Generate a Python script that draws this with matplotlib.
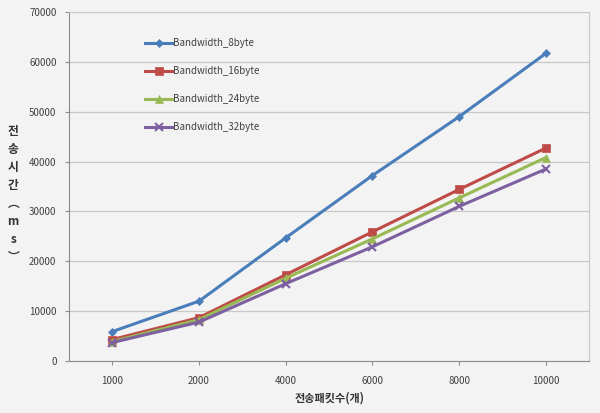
import matplotlib.pyplot as plt
import numpy as np

plt.rcParams['font.family'] = ['Noto Sans CJK KR', 'DejaVu Sans']

packets = ['1000', '2000', '4000', '6000', '8000', '10000']
bw_8 = [5900, 12000, 24700, 37200, 49000, 61700]
bw_16 = [4300, 8700, 17300, 25900, 34400, 42700]
bw_24 = [3900, 8300, 16600, 24500, 32700, 40800]
bw_32 = [3700, 7800, 15500, 22900, 31000, 38500]

series = [
    ('Bandwidth_8byte', bw_8, '#4a7ebb', 'D', 4),
    ('Bandwidth_16byte', bw_16, '#be4b48', 's', 6),
    ('Bandwidth_24byte', bw_24, '#98b954', '^', 6),
    ('Bandwidth_32byte', bw_32, '#7d60a0', 'x', 6),
]

bg = '#f3f3f3'
fig = plt.figure(figsize=(6, 4.13), dpi=100, facecolor=bg)
ax = fig.add_axes([0.115, 0.126, 0.867, 0.845], facecolor=bg)

x = np.arange(len(packets))
for name, vals, col, mk, ms in series:
    ax.plot(x, vals, color=col, lw=2.2, marker=mk, markersize=ms,
            markeredgewidth=1.5 if mk == 'x' else 0.5, label=name)

ax.set_xlim(-0.5, len(packets) - 0.5)
ax.set_ylim(0, 70000)
ax.set_yticks(np.arange(0, 70001, 10000))
ax.set_xticks(x)
ax.set_xticklabels(packets)
ax.grid(axis='y', color='#c8c8c8', lw=0.9)
ax.set_axisbelow(True)

for s in ['top', 'right']:
    ax.spines[s].set_color('#c8c8c8')
for s in ['left', 'bottom']:
    ax.spines[s].set_color('#8c8c8c')
ax.tick_params(axis='both', labelsize=7, colors='#8c8c8c', labelcolor='#404040',
               length=3, width=0.8)
ax.tick_params(axis='x', pad=8)
ax.tick_params(axis='y', pad=6)

ax.set_xlabel('전송패킷수(개)', fontsize=8, fontweight='bold', color='#333333', labelpad=4)
fig.text(0.022, 0.53, '전\n송\n시\n간\n︵\nm\ns\n︶', fontsize=8.5, fontweight='bold',
         color='#333333', ha='center', va='center', linespacing=1.5)

ax.legend(loc='upper left', bbox_to_anchor=(0.13, 0.95), frameon=False, fontsize=7,
          handlelength=2.7, handletextpad=0.1, labelspacing=1.85, labelcolor='#404040')

fig.savefig('out.png', dpi=100, facecolor=bg)
